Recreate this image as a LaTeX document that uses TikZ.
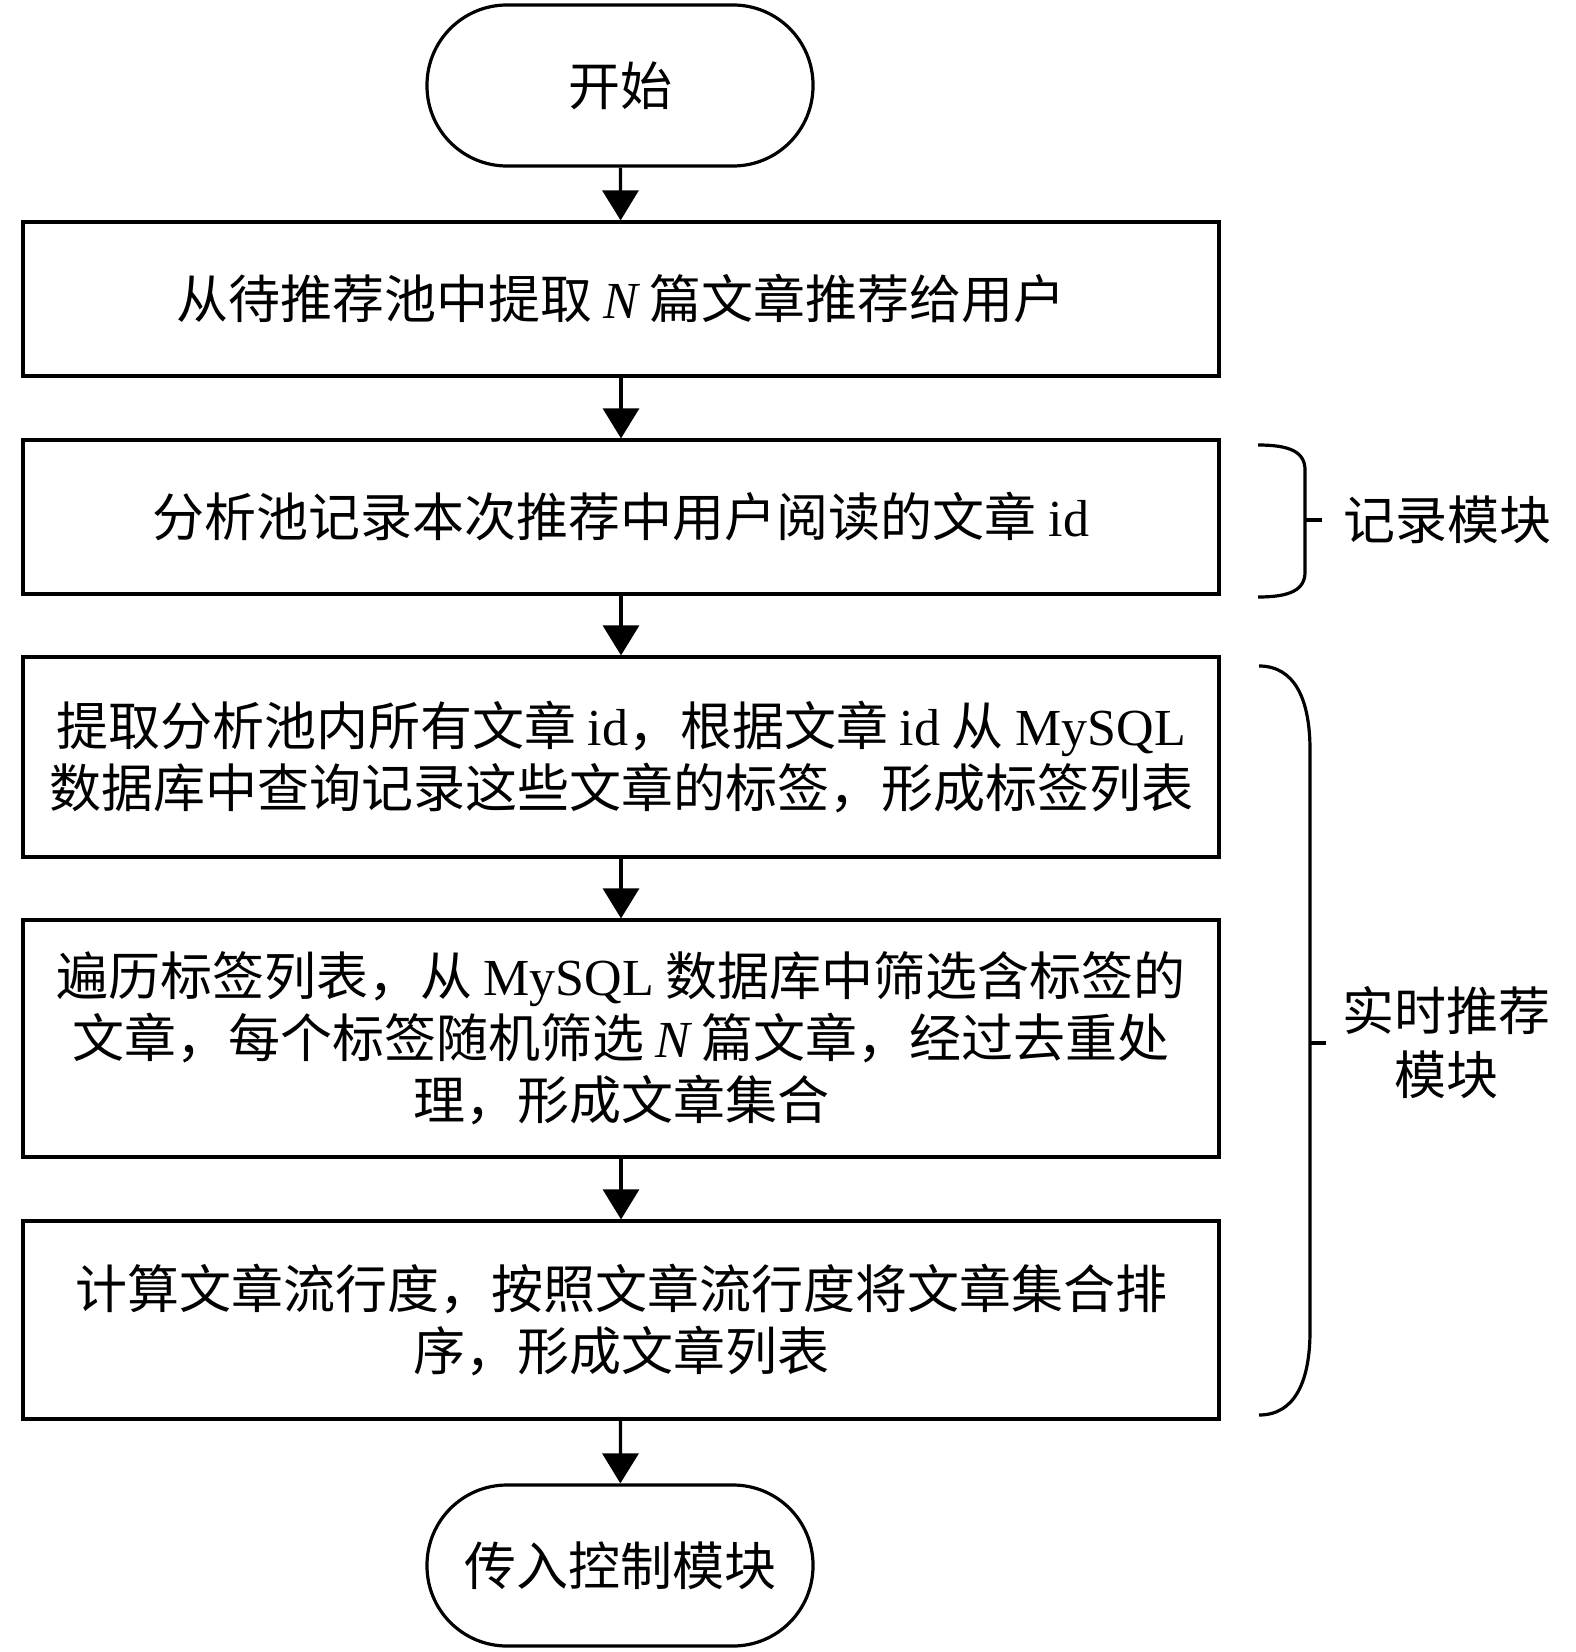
\documentclass[tikz,border=0pt]{standalone}
\usepackage{fontspec}
\setmainfont{Liberation Serif}
\newfontfamily\cjk{Noto Sans CJK SC}
\newfontfamily\lat{Liberation Serif}
\usetikzlibrary{arrows.meta}
\begin{document}
\begin{tikzpicture}[x=0.5pt,y=-0.5pt,
  every node/.style={font={\cjk\fontsize{26pt}{31pt}\selectfont}},
  boxnode/.style={draw,line width=1.6pt,minimum width=598pt,inner sep=0pt,align=center},
  termnode/.style={draw,line width=1.6pt,rounded corners=40pt,minimum width=193pt,minimum height=80.5pt,inner sep=0pt},
  flowarrow/.style={line width=1.6pt,-{Triangle[width=18pt,length=15pt]}},
  bracepath/.style={line width=1.6pt},
  modlabel/.style={align=center,font={\cjk\fontsize{26pt}{32pt}\selectfont}}]
\useasboundingbox (0,0) rectangle (1575,1652);
\node[termnode] (start) at (620,85.5) {开始};
\node[boxnode,minimum height=77pt] (b1) at (621,299) {从待推荐池中提取 {\lat\itshape N} 篇文章推荐给用户};
\node[boxnode,minimum height=77pt] (b2) at (621,517) {分析池记录本次推荐中用户阅读的文章 {\lat id}};
\node[boxnode,minimum height=100pt] (b3) at (621,757) {提取分析池内所有文章 {\lat id}，根据文章 {\lat id} 从 {\lat MySQL}\\数据库中查询记录这些文章的标签，形成标签列表};
\node[boxnode,minimum height=118.5pt] (b4) at (621,1038.5) {遍历标签列表，从 {\lat MySQL} 数据库中筛选含标签的\\文章，每个标签随机筛选 {\lat\itshape N} 篇文章，经过去重处\\理，形成文章集合};
\node[boxnode,minimum height=99pt] (b5) at (621,1320) {计算文章流行度，按照文章流行度将文章集合排\\序，形成文章列表};
\node[termnode] (end) at (620,1565.5) {传入控制模块};
\draw[flowarrow] (start) -- (b1);
\draw[flowarrow] (b1) -- (b2);
\draw[flowarrow] (b2) -- (b3);
\draw[flowarrow] (b3) -- (b4);
\draw[flowarrow] (b4) -- (b5);
\draw[flowarrow] (b5) -- (end);
% brace 1
\draw[bracepath] (1258,445) .. controls (1290,445) and (1305,452) .. (1305,470) -- (1305,572) .. controls (1305,590) and (1290,597) .. (1258,597);
\coordinate (t1a) at (1305,520);
\coordinate (t1b) at (1322,520);
\draw[bracepath] (t1a) -- (t1b);
\node[modlabel] (lab1) at (1447,520) {记录模块};
% brace 2
\draw[bracepath] (1259,666) .. controls (1295,666) and (1310,700) .. (1310,750) -- (1310,1331) .. controls (1310,1381) and (1295,1415) .. (1259,1415);
\coordinate (t2a) at (1310,1043);
\coordinate (t2b) at (1326,1043);
\draw[bracepath] (t2a) -- (t2b);
\node[modlabel] (lab2) at (1446,1043) {实时推荐\\模块};
\end{tikzpicture}
\end{document}
